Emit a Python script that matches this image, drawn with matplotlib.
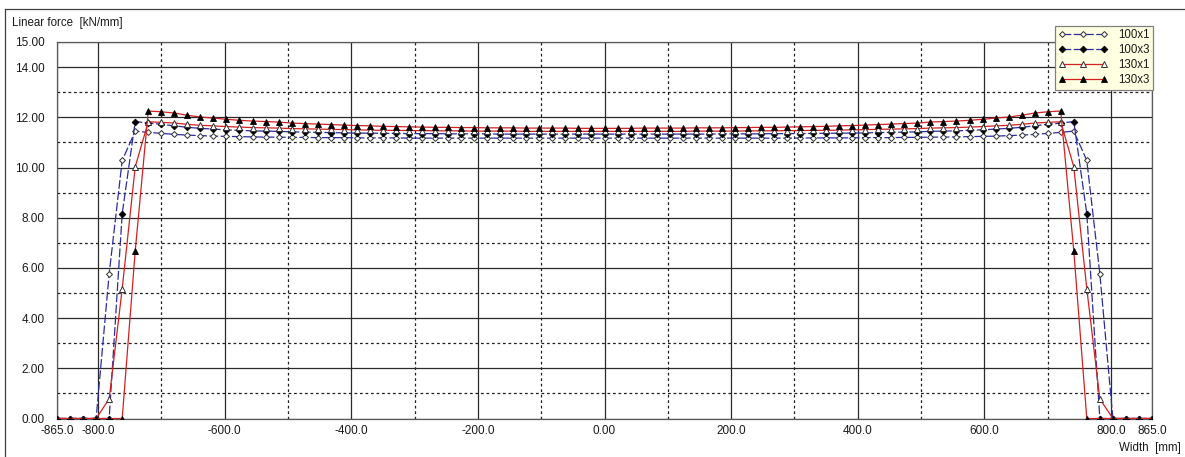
import matplotlib
matplotlib.use("Agg")
import matplotlib.pyplot as plt
from matplotlib.lines import Line2D

plt.rcParams['font.family'] = ['Liberation Sans', 'DejaVu Sans']

# ---------------- data ----------------
width_mm = [-865.0, -844.4, -823.8, -803.2, -782.6, -762.0, -741.4, -720.8, -700.2, -679.6,
            -659.0, -638.5, -617.9, -597.3, -576.7, -556.1, -535.5, -514.9, -494.3, -473.7,
            -453.1, -432.5, -411.9, -391.3, -370.7, -350.1, -329.5, -308.9, -288.3, -267.7,
            -247.1, -226.5, -206.0, -185.4, -164.8, -144.2, -123.6, -103.0, -82.4, -61.8,
            -41.2, -20.6, 0.0,
            20.6, 41.2, 61.8, 82.4, 103.0, 123.6, 144.2, 164.8, 185.4, 206.0,
            226.5, 247.1, 267.7, 288.3, 308.9, 329.5, 350.1, 370.7, 391.3, 411.9,
            432.5, 453.1, 473.7, 494.3, 514.9, 535.5, 556.1, 576.7, 597.3, 617.9,
            638.5, 659.0, 679.6, 700.2, 720.8, 741.4, 762.0, 782.6, 803.2, 823.8,
            844.4, 865.0]

f_100x1 = [0, 0, 0, 0, 5.76, 10.28, 11.45,
           11.40, 11.36, 11.32, 11.29, 11.27, 11.25, 11.24, 11.23, 11.22, 11.21,
           11.21, 11.20, 11.20, 11.19, 11.19, 11.19, 11.18, 11.18, 11.18, 11.18,
           11.17, 11.17, 11.17, 11.17, 11.17, 11.17, 11.17, 11.17, 11.17, 11.17,
           11.17, 11.17, 11.17, 11.17, 11.17, 11.17,
           11.17, 11.17, 11.17, 11.17, 11.17,
           11.17, 11.17, 11.17, 11.17, 11.17, 11.17, 11.17, 11.17, 11.17, 11.17,
           11.18, 11.18, 11.18, 11.18, 11.19, 11.19, 11.19, 11.20, 11.20, 11.21,
           11.21, 11.22, 11.23, 11.24, 11.25, 11.27, 11.29, 11.32, 11.36, 11.40,
           11.45, 10.28, 5.76, 0, 0, 0, 0]

f_100x3 = [0, 0, 0, 0, 0, 8.16, 11.83,
           11.77, 11.72, 11.66, 11.60, 11.56, 11.53, 11.50, 11.48, 11.46, 11.45,
           11.44, 11.42, 11.41, 11.40, 11.39, 11.38, 11.37, 11.37, 11.36, 11.36,
           11.35, 11.35, 11.35, 11.34, 11.34, 11.34, 11.34, 11.33, 11.33, 11.33,
           11.33, 11.33, 11.33, 11.33, 11.33, 11.33,
           11.33, 11.33, 11.33, 11.33, 11.33,
           11.33, 11.33, 11.33, 11.34, 11.34, 11.34, 11.34, 11.35, 11.35, 11.35,
           11.36, 11.36, 11.37, 11.37, 11.38, 11.39, 11.40, 11.41, 11.42, 11.44,
           11.45, 11.46, 11.48, 11.50, 11.53, 11.56, 11.60, 11.66, 11.72, 11.77,
           11.83, 8.16, 0, 0, 0, 0, 0]

f_130x1 = [0, 0, 0, 0, 0.78, 5.17, 10.03,
           11.82, 11.80, 11.77, 11.72, 11.68, 11.66, 11.63, 11.61, 11.59, 11.58,
           11.57, 11.55, 11.54, 11.53, 11.52, 11.51, 11.50, 11.49, 11.48, 11.48,
           11.47, 11.47, 11.46, 11.46, 11.46, 11.45, 11.45, 11.45, 11.45, 11.44,
           11.44, 11.44, 11.44, 11.44, 11.44, 11.44,
           11.44, 11.44, 11.44, 11.44, 11.44,
           11.44, 11.45, 11.45, 11.45, 11.45, 11.46, 11.46, 11.46, 11.47, 11.47,
           11.48, 11.48, 11.49, 11.50, 11.51, 11.52, 11.53, 11.54, 11.55, 11.57,
           11.58, 11.59, 11.61, 11.63, 11.66, 11.68, 11.72, 11.77, 11.80, 11.82,
           10.03, 5.17, 0.78, 0, 0, 0, 0]

f_130x3 = [0, 0, 0, 0, 0, 0, 6.68,
           12.25, 12.22, 12.17, 12.08, 12.01, 11.97, 11.92, 11.88, 11.85, 11.83,
           11.81, 11.77, 11.75, 11.73, 11.71, 11.69, 11.67, 11.66, 11.64, 11.63,
           11.62, 11.61, 11.60, 11.60, 11.59, 11.59, 11.58, 11.58, 11.58, 11.57,
           11.57, 11.57, 11.57, 11.56, 11.56, 11.56,
           11.56, 11.56, 11.57, 11.57, 11.57,
           11.57, 11.58, 11.58, 11.58, 11.59, 11.59, 11.60, 11.60, 11.61, 11.62,
           11.63, 11.64, 11.66, 11.67, 11.69, 11.71, 11.73, 11.75, 11.77, 11.81,
           11.83, 11.85, 11.88, 11.92, 11.97, 12.01, 12.08, 12.17, 12.22, 12.25,
           6.68, 0, 0, 0, 0, 0, 0]

series_names = ['100x1', '100x3', '130x1', '130x3']

x_ticks = [-865, -800, -600, -400, -200, 0, 200, 400, 600, 800, 865]
x_ticklabels = ['-865.0', '-800.0', '-600.0', '-400.0', '-200.0', '0.00',
                '200.0', '400.0', '600.0', '800.0', '865.0']
x_minor = [-700, -500, -300, -100, 100, 300, 500, 700]
y_ticks = [0, 2, 4, 6, 8, 10, 12, 14, 15]
y_ticklabels = ['0.00', '2.00', '4.00', '6.00', '8.00', '10.00', '12.00', '14.00', '15.00']
y_minor = [1, 3, 5, 7, 9, 11, 13]

# ---------------- figure ----------------
W, H = 1185, 457
fig = plt.figure(figsize=(W / 100, H / 100), dpi=100)
fig.patch.set_facecolor('white')

ax = fig.add_axes([57 / W, (H - 418.5) / H, (1152 - 57) / W, (418.5 - 42) / H])
ax.set_xlim(-865, 865)
ax.set_ylim(0, 15)

blue = '#2B2BA6'
red = '#D42020'
dash = (0, (7, 2))

styles = [
    dict(color=blue, ls=dash, marker='D', mfc='white', mec='#303030', ms=3.0, mew=0.7),
    dict(color=blue, ls=dash, marker='D', mfc='black', mec='black', ms=3.4, mew=0.6),
    dict(color=red, ls='-', marker='^', mfc='white', mec='#303030', ms=4.5, mew=0.7),
    dict(color=red, ls='-', marker='^', mfc='black', mec='black', ms=5.0, mew=0.6),
]
data = [f_100x1, f_100x3, f_130x1, f_130x3]
for name, vals, st in zip(series_names, data, styles):
    ax.plot(width_mm, vals, lw=0.9, label=name, zorder=3, **st)

# grid
ax.set_xticks(x_ticks)
ax.set_xticklabels(x_ticklabels)
ax.set_xticks(x_minor, minor=True)
ax.set_yticks(y_ticks)
ax.set_yticklabels(y_ticklabels)
ax.set_yticks(y_minor, minor=True)
ax.grid(which='major', color='#2a2a2a', lw=0.9, ls='-', zorder=1)
ax.grid(which='minor', color='#202020', lw=0.9, ls=(0, (2.2, 2.2)), zorder=1)
ax.set_axisbelow(True)
ax.tick_params(which='both', length=0)
ax.tick_params(axis='y', pad=9, labelsize=8.5, labelcolor='#1a1a1a')
ax.tick_params(axis='x', pad=5, labelsize=8.5, labelcolor='#1a1a1a')
for sp in ax.spines.values():
    sp.set_color('#5a5a5a')
    sp.set_linewidth(0.9)

fig.text(12 / W, 1 - 23 / H, 'Linear force  [kN/mm]', fontsize=8.3, color='#1a1a1a',
         ha='left', va='center')
fig.text(1181 / W, 1 - 448 / H, 'Width  [mm]', fontsize=8.3, color='#1a1a1a',
         ha='right', va='center')

# outer frame (left and top edges visible)
fig.add_artist(Line2D([5 / W, 5 / W], [0, 1 - 9 / H], transform=fig.transFigure,
                      color='#404040', lw=0.9))
fig.add_artist(Line2D([5 / W, 1], [1 - 9 / H, 1 - 9 / H], transform=fig.transFigure,
                      color='#404040', lw=0.9))

leg = ax.legend(loc='upper right', bbox_to_anchor=(1153 / W, 1 - 26 / H),
                bbox_transform=fig.transFigure, fontsize=8.3, numpoints=3,
                handlelength=4.3, handletextpad=0.9, borderpad=0.3,
                labelspacing=0.25, borderaxespad=0, fancybox=False,
                facecolor='#FFFFE1', edgecolor='#808080', framealpha=1)
leg.get_frame().set_linewidth(0.9)
for t in leg.get_texts():
    t.set_color('#1a1a1a')

fig.savefig('out.png', dpi=100)
